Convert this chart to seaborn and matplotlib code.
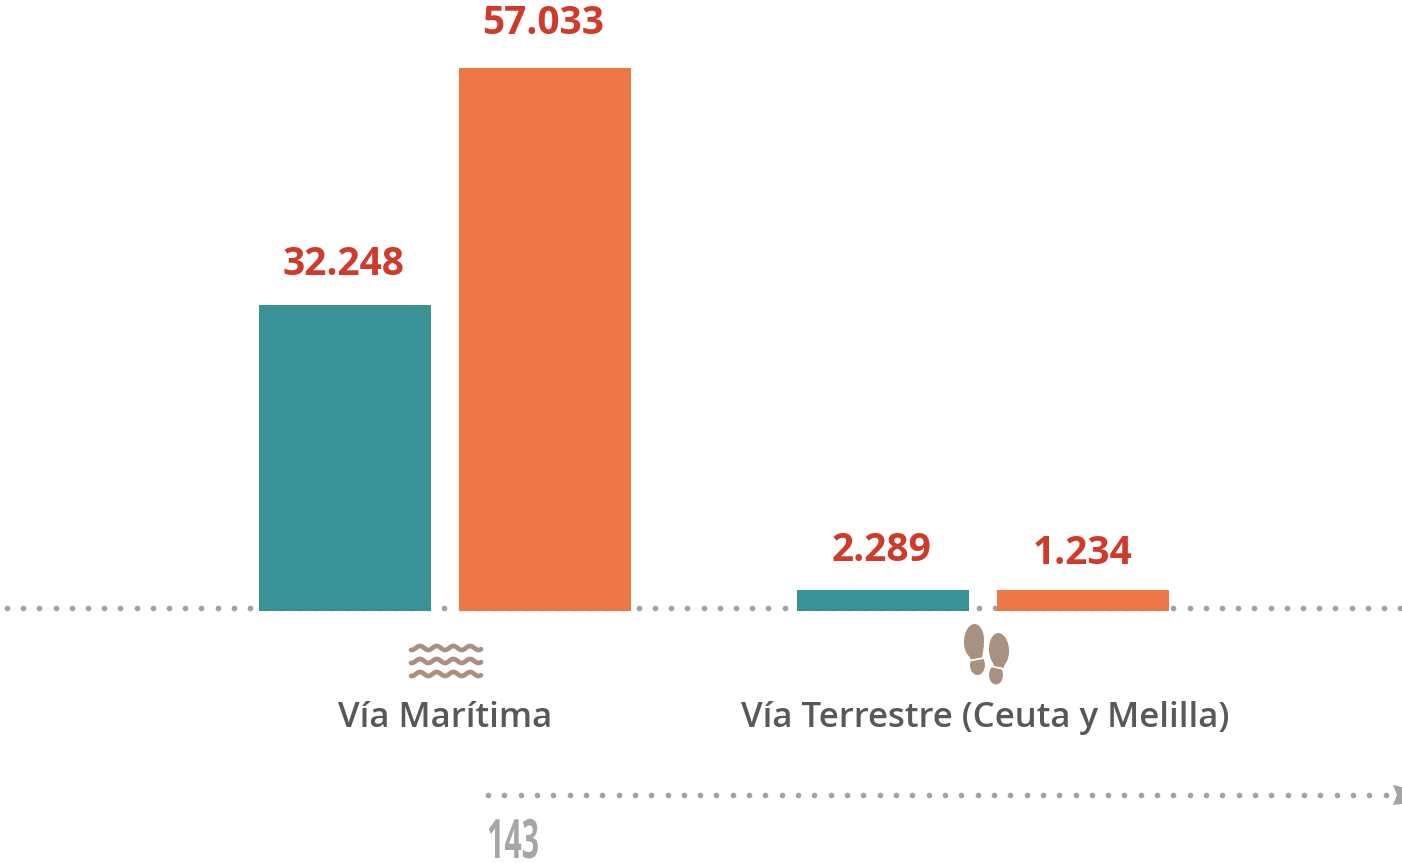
import numpy as np
import pandas as pd
import seaborn as sns
import matplotlib.pyplot as plt
from matplotlib.patches import Ellipse, Polygon
from matplotlib.patheffects import AbstractPathEffect
from matplotlib.transforms import Affine2D, ScaledTranslation

W, H = 1402, 863
BASE_Y = 611

routes = ['Vía Marítima', 'Vía Terrestre (Ceuta y Melilla)']
periods = ['A', 'B']
teal_heights = [32150, 2200]
orange_heights = [57033, 2200]
teal_labels = ['32.248', '2.289']
orange_labels = ['57.033', '1.234']
page_number = '143'

TEAL = '#399296'
ORANGE = '#ee7747'
RED = '#cf3a2b'
TEXT = '#58585a'
DOTS = '#a3a3a3'
ICON = '#a89181'


class Squeeze(AbstractPathEffect):
    # narrows the glyphs around a display x, no condensed font is installed
    def __init__(self, cx, sx):
        self.cx = cx
        self.sx = sx

    def draw_path(self, renderer, gc, tpath, affine, rgbFace=None):
        squeeze = Affine2D().translate(-self.cx, 0).scale(self.sx, 1).translate(self.cx, 0)
        renderer.draw_path(gc, tpath, affine + squeeze, rgbFace)


sns.set_theme(style='white')
plt.rcParams['font.family'] = ['Open Sans', 'DejaVu Sans']

df = pd.DataFrame({
    'route': routes * 2,
    'period': [periods[0]] * 2 + [periods[1]] * 2,
    'height': teal_heights + orange_heights,
})

fig = plt.figure(figsize=(W / 100, H / 100), dpi=100, facecolor='white')

# pixel overlay for the dots and icons
deco = fig.add_axes([0, 0, 1, 1], zorder=0)
deco.set_xlim(0, W)
deco.set_ylim(H, 0)
deco.axis('off')

x_base = np.arange(7.0, W + 4, 16.2)
deco.scatter(x_base, np.full_like(x_base, 608), s=17, color=DOTS, linewidths=0)
x_bottom = np.arange(488, 1390, 16.32)
deco.scatter(x_bottom, np.full_like(x_bottom, 795), s=17, color=DOTS, linewidths=0)
deco.add_patch(Polygon([(1393, 785), (1402, 787), (1402, 804), (1393, 805), (1397, 795)],
                       color=DOTS, lw=0))

# waves
wx = np.linspace(411, 481, 120)
for y0 in [648, 661, 674]:
    deco.plot(wx, y0 - 2 * np.cos((wx - 420) / 16.7 * 2 * np.pi), color=ICON, lw=3.4,
              solid_capstyle='round')

# shoe prints
for cx, cy, w, h, ang in [(974, 641, 20, 34, 3), (977.5, 665, 15, 20, 0),
                          (999, 650, 20, 34, -3), (996, 675, 14, 19, 0)]:
    deco.add_patch(Ellipse((cx, cy), w, h, angle=ang, color=ICON, lw=0))
deco.add_patch(Polygon([(965, 645), (984, 645), (982, 658), (971, 660)], color=ICON, lw=0))
deco.add_patch(Polygon([(989.5, 652), (1009, 652), (1003.5, 668), (994, 666)], color=ICON, lw=0))
deco.plot([968, 986], [661, 657.5], color='white', lw=1.3)
deco.plot([990, 1008], [666, 670], color='white', lw=1.3)

deco.text(513, 844, page_number, ha='center', va='center', fontsize=39, color='#a6a6a6',
          fontweight='bold', path_effects=[Squeeze(513, 0.56)])

# bars
ax = fig.add_axes([0, 1 - BASE_Y / H, 1, BASE_Y / H], zorder=1)
ax.patch.set_alpha(0)
sns.barplot(data=df, x='route', y='height', hue='period', palette=[TEAL, ORANGE],
            width=0.743, gap=0.14, saturation=1, legend=False, linewidth=0, ax=ax)
ax.set_xlim(-445 / 538, (W - 445) / 538)
ax.set_ylim(0, BASE_Y / 543 * 57033)
ax.set_xlabel('')
ax.set_ylabel('')
ax.set_yticks([])
ax.tick_params(axis='x', length=0, pad=65, labelsize=25, labelcolor=TEXT)
for lab in ax.get_xticklabels():
    lab.set_fontweight('semibold')
tick = ax.xaxis.get_major_ticks()[1]
tick.label1.set_transform(tick.label1.get_transform() + ScaledTranslation(2 / 100, 0, fig.dpi_scale_trans))
sns.despine(ax=ax, left=True, bottom=True, top=True, right=True)

# value labels, offsets in px from the top of each bar
bars = list(ax.patches)[:4]
labels = teal_labels + orange_labels
offsets = [(-2, 44), (-2, 44), (-2, 47), (0, 40)]
offsets = [(-2, 40), (-2, 40), (-2, 44), (0, 37)]
for bar, label, (dx, dy) in zip(bars, labels, offsets):
    ax.annotate(label, (bar.get_x() + bar.get_width() / 2, bar.get_height()),
                xytext=(dx * 0.72, dy * 0.72), textcoords='offset points',
                ha='center', va='center', fontsize=28, fontweight='bold', color=RED,
                annotation_clip=False)

fig.savefig('out.png', dpi=100)
